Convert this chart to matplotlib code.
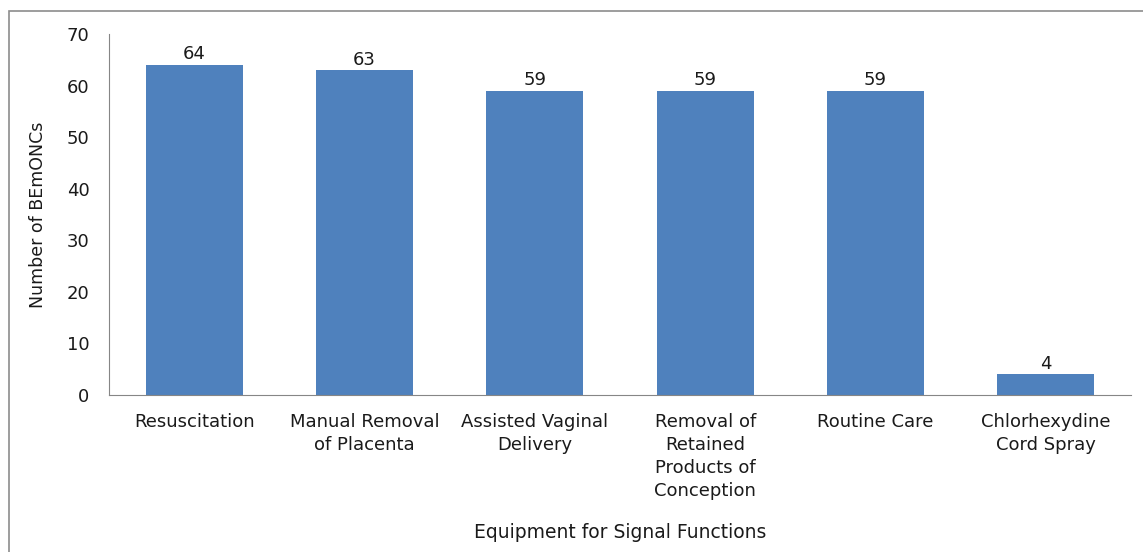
import matplotlib
matplotlib.use("Agg")
import matplotlib.pyplot as plt
from matplotlib.patches import Rectangle

plt.rcParams["font.family"] = ["DejaVu Sans"]

categories = [
    "Resuscitation",
    "Manual Removal\nof Placenta",
    "Assisted Vaginal\nDelivery",
    "Removal of\nRetained\nProducts of\nConception",
    "Routine Care",
    "Chlorhexydine\nCord Spray",
]
counts = [64, 63, 59, 59, 59, 4]
yticks = [0, 10, 20, 30, 40, 50, 60, 70]

BAR = "#4F81BD"
AXIS = "#868686"
TEXT = "#1a1a1a"

fig = plt.figure(figsize=(11.43, 5.52), dpi=100)
# outer chart border (only top and left fall inside the picture)
fig.patches.append(Rectangle((9 / 1143, -0.1), 1.2, 1 - 11 / 552 + 0.1,
                             transform=fig.transFigure, fill=False,
                             edgecolor="#8c8c8c", linewidth=1.2))
ax = fig.add_axes([109 / 1143, 1 - 395 / 552, 1022 / 1143, 361 / 552])

xs = range(len(categories))
bars = ax.bar(xs, counts, width=0.57, color=BAR)
for b, v in zip(bars, counts):
    ax.text(b.get_x() + b.get_width() / 2, v + 0.3, str(v), ha="center",
            va="bottom", fontsize=13, color=TEXT)

ax.set_xlim(-0.5, len(categories) - 0.5)
ax.set_ylim(0, 70)
ax.set_yticks(yticks)
ax.set_xticks(list(xs))
ax.set_xticklabels(categories, fontsize=13, color=TEXT, linespacing=1.36)
ax.tick_params(axis="both", length=0, labelsize=13, colors=TEXT)
ax.tick_params(axis="x", pad=13)
ax.tick_params(axis="y", pad=14)
for side in ("top", "right"):
    ax.spines[side].set_visible(False)
for side in ("left", "bottom"):
    ax.spines[side].set_color(AXIS)

ax.set_ylabel("Number of BEmONCs", fontsize=12.5, color=TEXT, labelpad=14)
fig.text(620 / 1143, 1 - 533 / 552, "Equipment for Signal Functions",
         ha="center", va="center", fontsize=13.5, color=TEXT)

fig.savefig("out.png", dpi=100)
